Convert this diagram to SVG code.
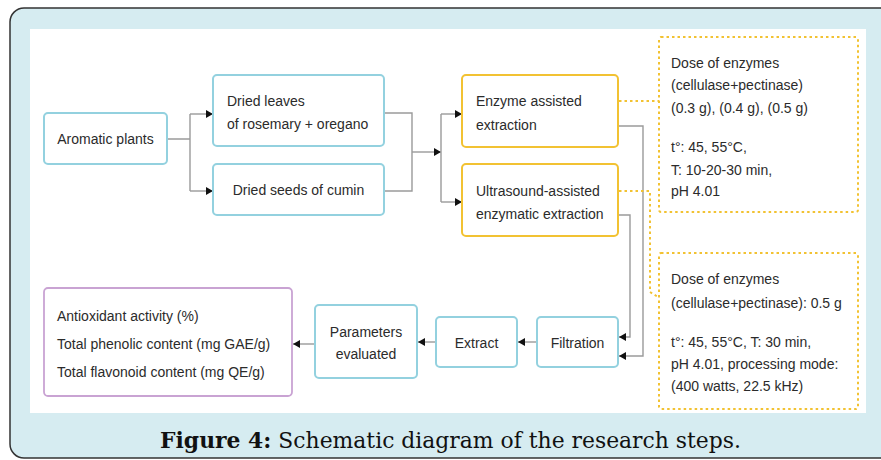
<svg xmlns="http://www.w3.org/2000/svg" width="881" height="460" viewBox="0 0 881 460">
<defs>
<marker id="ah" markerUnits="userSpaceOnUse" markerWidth="7" markerHeight="8" refX="7" refY="4" orient="auto">
<path d="M0,0 L7,4 L0,8 z" fill="#111"/>
</marker>
<style>
.t{font-family:"Liberation Sans",Arial,sans-serif;font-size:14px;fill:#2b2b2b}
.c{text-anchor:middle}
.blue{fill:#fff;stroke:#93d1df;stroke-width:2}
.yel{fill:#fff;stroke:#f2c232;stroke-width:2}
.pur{fill:#fff;stroke:#c9a3d3;stroke-width:1.8}
.dot{fill:none;stroke:#f2c232;stroke-width:2;stroke-dasharray:2.5 3}
.ln{fill:none;stroke:#9a9a9a;stroke-width:1.4}
.ar{fill:none;stroke:#9a9a9a;stroke-width:1.4;marker-end:url(#ah)}
</style>
</defs>
<rect x="10" y="8" width="900" height="450" rx="14" fill="#d6ecf1" stroke="#333" stroke-width="1.5"/>
<rect x="30" y="29" width="836" height="384" fill="#fff"/>
<g id="connectors">
<path class="ln" d="M167,139 H190 M190,114 V191"/>
<path class="ar" d="M190,114 H213"/>
<path class="ar" d="M190,191 H213"/>
<path class="ln" d="M384,113 H412 V191 H384"/>
<path class="ar" d="M412,152 H441"/>
<path class="ln" d="M441,114 V202"/>
<path class="ar" d="M441,114 H462"/>
<path class="ar" d="M441,202 H462"/>
<path class="ar" d="M618,126 H643 V356 H619"/>
<path class="ar" d="M618,215 H630 V337 H619"/>
<path class="ar" d="M537,342 H518"/>
<path class="ar" d="M436,342 H418"/>
<path class="ar" d="M315,344 H293"/>
<path class="dot" d="M619,101 H659"/>
<path class="dot" d="M619,191 H650 V292 L658,297"/>
</g>
<g id="aromatic">
<rect class="blue" x="44" y="113" width="123" height="51" rx="4"/>
<text class="t c" x="105.5" y="144">Aromatic plants</text>
</g>
<g id="leaves">
<rect class="blue" x="213" y="75" width="171" height="71" rx="4"/>
<text class="t" x="227" y="106">Dried leaves</text>
<text class="t" x="227" y="129">of rosemary + oregano</text>
</g>
<g id="seeds">
<rect class="blue" x="213" y="164" width="171" height="51" rx="4"/>
<text class="t c" x="298.5" y="195">Dried seeds of cumin</text>
</g>
<g id="enzyme">
<rect class="yel" x="462" y="75" width="156" height="72" rx="4"/>
<text class="t" x="476" y="106">Enzyme assisted</text>
<text class="t" x="476" y="130">extraction</text>
</g>
<g id="ultrasound">
<rect class="yel" x="462" y="164" width="156" height="72" rx="4"/>
<text class="t" x="476" y="196">Ultrasound-assisted</text>
<text class="t" x="476" y="219">enzymatic extraction</text>
</g>
<g id="dose1">
<rect class="dot" x="659" y="37" width="199" height="175" rx="2"/>
<text class="t" x="671" y="68">Dose of enzymes</text>
<text class="t" x="671" y="90">(cellulase+pectinase)</text>
<text class="t" x="671" y="113">(0.3 g), (0.4 g), (0.5 g)</text>
<text class="t" x="671" y="152">t°: 45, 55°C,</text>
<text class="t" x="671" y="175">T: 10-20-30 min,</text>
<text class="t" x="671" y="196">pH 4.01</text>
</g>
<g id="dose2">
<rect class="dot" x="659" y="253" width="199" height="156" rx="2"/>
<text class="t" x="671" y="284">Dose of enzymes</text>
<text class="t" x="671" y="308">(cellulase+pectinase): 0.5 g</text>
<text class="t" x="671" y="347">t°: 45, 55°C, T: 30 min,</text>
<text class="t" x="671" y="369">pH 4.01, processing mode:</text>
<text class="t" x="671" y="391">(400 watts, 22.5 kHz)</text>
</g>
<g id="filtration">
<rect class="blue" x="537" y="317" width="81" height="50" rx="4"/>
<text class="t c" x="577.5" y="348">Filtration</text>
</g>
<g id="extract">
<rect class="blue" x="436" y="317" width="81" height="50" rx="4"/>
<text class="t c" x="476.5" y="348">Extract</text>
</g>
<g id="parameters">
<rect class="blue" x="315" y="305" width="102" height="73" rx="4"/>
<text class="t c" x="366" y="337">Parameters</text>
<text class="t c" x="366" y="359">evaluated</text>
</g>
<g id="results">
<rect class="pur" x="44" y="288" width="248" height="108" rx="4"/>
<text class="t" x="57" y="321">Antioxidant activity (%)</text>
<text class="t" x="57" y="349">Total phenolic content (mg GAE/g)</text>
<text class="t" x="57" y="377">Total flavonoid content (mg QE/g)</text>
</g>
<text x="160" y="448" textLength="581" lengthAdjust="spacingAndGlyphs" style="font-family:'DejaVu Serif','Liberation Serif',serif;font-size:22px;fill:#111"><tspan font-weight="bold">Figure 4:</tspan> Schematic diagram of the research steps.</text>
</svg>
